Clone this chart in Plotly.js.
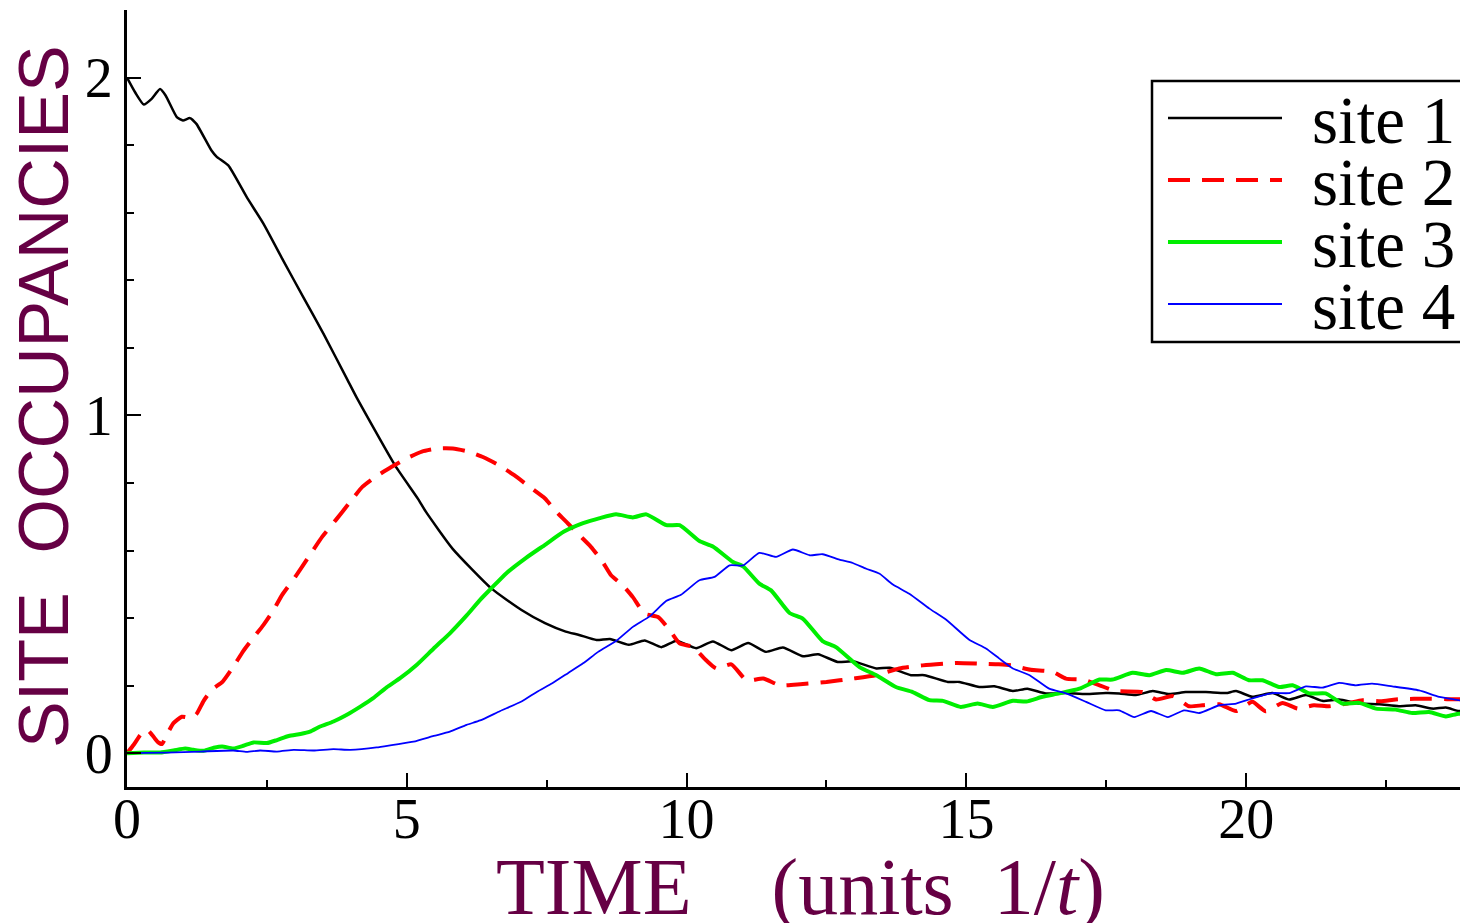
<!DOCTYPE html>
<html>
<head>
<meta charset="utf-8">
<script src="https://cdn.plot.ly/plotly-3.0.1.min.js"></script>
<style>
  html, body { margin: 0; padding: 0; background: #fff; overflow: hidden; width: 1460px; height: 923px; }
  #chart { width: 1476px; height: 923px; }
</style>
</head>
<body>
<div id="chart"></div>
<script>
// ---- data: [time, occupancy] ----
const seriesNames = ["site 1", "site 2", "site 3", "site 4"];
const xAxisTitle = "TIME\u00a0\u00a0\u00a0\u00a0(units\u00a0\u00a01/<i>t</i>)";
const yAxisTitle = "SITE\u00a0\u00a0OCCUPANCIES";

const site1 = [[0,2.0],[0.15,1.955],[0.3,1.92],[0.44,1.937],[0.59,1.966],[0.69,1.947],[0.89,1.883],[1.0,1.873],[1.125,1.880],[1.24,1.863],[1.51,1.784],[1.6,1.766],[1.81,1.740],[2.14,1.646],[2.44,1.567],[2.79,1.459],[3.15,1.35],[3.51,1.242],[3.94,1.105],[4.10,1.054],[4.79,0.852],[5.20,0.753],[5.34,0.715],[5.82,0.605],[6.51,0.488],[7.05,0.424],[7.47,0.385],[7.84,0.360],[8.08,0.350],[8.39,0.335],[8.63,0.338],[8.97,0.321],[9.25,0.334],[9.55,0.314],[9.82,0.333],[10.17,0.311],[10.47,0.331],[10.80,0.305],[11.10,0.326],[11.42,0.300],[11.72,0.313],[12.08,0.287],[12.35,0.293],[12.70,0.270],[12.97,0.272],[13.39,0.251],[13.63,0.253],[14.01,0.231],[14.25,0.231],[14.67,0.211],[14.875,0.211],[15.23,0.196],[15.50,0.198],[15.83,0.184],[16.09,0.191],[16.42,0.177],[16.78,0.178],[17.14,0.175],[17.49,0.178],[17.73,0.177],[18.03,0.172],[18.33,0.184],[18.625,0.175],[18.92,0.181],[19.28,0.181],[19.64,0.178],[19.82,0.184],[20.11,0.167],[20.47,0.178],[20.77,0.159],[21.07,0.172],[21.36,0.155],[21.66,0.159],[22.02,0.147],[22.38,0.145],[22.73,0.139],[23.03,0.142],[23.33,0.132],[23.57,0.135],[23.80,0.125],[24.0,0.127]];

const site2 = [[0,0],[0.12,0.025],[0.24,0.054],[0.36,0.069],[0.45,0.054],[0.54,0.035],[0.625,0.027],[0.71,0.054],[0.83,0.089],[0.98,0.108],[1.16,0.104],[1.25,0.118],[1.37,0.155],[1.51,0.187],[1.71,0.212],[1.90,0.256],[2.08,0.303],[2.26,0.342],[2.44,0.38],[2.62,0.424],[2.77,0.468],[3.01,0.523],[3.25,0.582],[3.49,0.641],[3.73,0.690],[3.97,0.740],[4.21,0.789],[4.45,0.819],[4.73,0.848],[5.0,0.873],[5.27,0.893],[5.55,0.902],[5.82,0.902],[6.10,0.893],[6.37,0.876],[6.64,0.853],[6.92,0.823],[7.19,0.789],[7.47,0.754],[7.67,0.715],[7.88,0.680],[8.08,0.646],[8.29,0.611],[8.49,0.569],[8.65,0.527],[8.86,0.497],[9.04,0.462],[9.25,0.413],[9.49,0.403],[9.70,0.364],[9.875,0.325],[10.11,0.315],[10.35,0.275],[10.53,0.251],[10.80,0.263],[11.07,0.216],[11.37,0.221],[11.67,0.201],[12.03,0.204],[12.5,0.211],[12.97,0.221],[13.38,0.231],[13.80,0.251],[14.22,0.260],[14.81,0.267],[15.23,0.265],[15.58,0.263],[15.80,0.260],[16.15,0.247],[16.54,0.241],[16.78,0.221],[17.08,0.218],[17.38,0.201],[17.67,0.184],[18.15,0.181],[18.39,0.159],[18.69,0.169],[18.98,0.139],[19.22,0.142],[19.52,0.145],[19.82,0.125],[20.11,0.152],[20.35,0.124],[20.65,0.149],[20.92,0.132],[21.21,0.142],[21.48,0.139],[21.81,0.147],[22.08,0.157],[22.40,0.154],[22.67,0.159],[23.0,0.161],[23.27,0.161],[23.59,0.160],[24.0,0.160]];

const site3 = [[0,0],[0.30,0.002],[0.595,0.002],[0.83,0.008],[1.04,0.014],[1.19,0.010],[1.37,0.007],[1.55,0.016],[1.70,0.020],[1.90,0.014],[2.08,0.022],[2.26,0.032],[2.5,0.030],[2.68,0.039],[2.89,0.051],[3.10,0.057],[3.27,0.064],[3.45,0.079],[3.69,0.094],[3.93,0.114],[4.17,0.138],[4.40,0.163],[4.64,0.195],[4.88,0.222],[5.18,0.262],[5.48,0.310],[5.77,0.355],[6.07,0.408],[6.31,0.454],[6.51,0.488],[6.78,0.533],[7.12,0.577],[7.47,0.617],[7.81,0.656],[8.15,0.681],[8.45,0.696],[8.74,0.707],[9.04,0.698],[9.28,0.707],[9.64,0.675],[9.875,0.675],[10.23,0.628],[10.47,0.612],[10.83,0.566],[11.01,0.553],[11.30,0.502],[11.51,0.482],[11.84,0.415],[12.08,0.398],[12.43,0.332],[12.67,0.314],[13.09,0.255],[13.39,0.231],[13.74,0.196],[14.04,0.181],[14.34,0.157],[14.58,0.155],[14.90,0.137],[15.20,0.147],[15.47,0.137],[15.83,0.155],[16.07,0.153],[16.36,0.167],[16.66,0.177],[17.02,0.191],[17.38,0.218],[17.61,0.218],[17.97,0.238],[18.27,0.231],[18.57,0.246],[18.87,0.238],[19.16,0.251],[19.46,0.234],[19.76,0.238],[20.05,0.216],[20.29,0.216],[20.59,0.196],[20.83,0.201],[21.13,0.177],[21.42,0.177],[21.72,0.147],[22.02,0.149],[22.32,0.132],[22.67,0.129],[22.97,0.119],[23.27,0.122],[23.57,0.109],[23.80,0.117],[24.0,0.112]];

const site4 = [[0,0],[0.71,0.002],[1.31,0.005],[1.90,0.008],[2.14,0.004],[2.38,0.008],[2.68,0.005],[2.98,0.010],[3.33,0.008],[3.69,0.012],[3.99,0.010],[4.46,0.017],[4.76,0.025],[5.12,0.034],[5.48,0.051],[5.77,0.064],[6.07,0.084],[6.31,0.097],[6.67,0.125],[7.05,0.153],[7.33,0.182],[7.60,0.207],[7.88,0.237],[8.15,0.266],[8.42,0.300],[8.74,0.332],[9.04,0.374],[9.34,0.405],[9.64,0.451],[9.90,0.469],[10.23,0.512],[10.5,0.522],[10.77,0.556],[11.01,0.556],[11.30,0.593],[11.60,0.581],[11.90,0.603],[12.20,0.586],[12.43,0.589],[12.73,0.573],[12.97,0.563],[13.21,0.546],[13.45,0.531],[13.68,0.500],[13.98,0.472],[14.34,0.428],[14.64,0.395],[15.05,0.336],[15.35,0.310],[15.59,0.280],[15.83,0.251],[16.13,0.231],[16.48,0.191],[16.78,0.177],[17.14,0.152],[17.49,0.127],[17.73,0.127],[18.0,0.107],[18.30,0.125],[18.60,0.107],[18.89,0.127],[19.16,0.119],[19.52,0.142],[19.82,0.147],[20.11,0.162],[20.47,0.178],[20.77,0.178],[21.07,0.198],[21.36,0.194],[21.66,0.208],[21.96,0.201],[22.25,0.206],[22.61,0.198],[23.09,0.186],[23.45,0.167],[23.80,0.157],[24.0,0.150]];

const xTickVals = [0, 5, 10, 15, 20];
const yTickVals = [0, 1, 2];
const xRange = [0, 24];
const yRange = [-0.1, 2.2];

// ---- styling ----
const styles = [
  {color: "#000000", width: 2.5, dash: "solid"},
  {color: "#ff0000", width: 4, dash: "22px,12px"},
  {color: "#00ee00", width: 4, dash: "solid"},
  {color: "#0000ff", width: 1.8, dash: "solid"}
];
const allSeries = [site1, site2, site3, site4];

const titleColor = "#660044";
const serif = "Liberation Serif, Times New Roman, serif";
const sans = "Liberation Sans, Arial, sans-serif";
const W = 1476, H = 923;
const M = {l: 127, r: 6, t: 10, b: 136};
const plotW = W - M.l - M.r, plotH = H - M.t - M.b;
const px = x => (x - M.l) / plotW;
const py = y => (H - M.b - y) / plotH;

const traces = allSeries.map((s, i) => ({
  type: "scatter",
  mode: "lines",
  name: seriesNames[i],
  x: s.map(p => p[0]),
  y: s.map(p => p[1]),
  line: {color: styles[i].color, width: styles[i].width, dash: styles[i].dash, shape: "spline", smoothing: 0.5},
  hoverinfo: "skip",
  showlegend: false
}));

// manual legend (box + sample lines + labels)
const legRowsY = [118, 180, 242, 304];
const shapes = [{
  type: "rect", xref: "paper", yref: "paper", layer: "above",
  x0: px(1152), x1: px(1500), y0: py(342), y1: py(81),
  line: {color: "#000", width: 2.5}, fillcolor: "rgba(255,255,255,1)"
}];
const annotations = [];
seriesNames.forEach((n, i) => {
  shapes.push({
    type: "line", xref: "paper", yref: "paper", layer: "above",
    x0: px(1168), x1: px(1282), y0: py(legRowsY[i]), y1: py(legRowsY[i]),
    line: {color: styles[i].color, width: styles[i].width, dash: styles[i].dash}
  });
  annotations.push({
    xref: "paper", yref: "paper", x: px(1310), y: py(legRowsY[i] + 2),
    xanchor: "left", yanchor: "middle", showarrow: false,
    text: n, font: {family: serif, size: 67, color: "#000"}
  });
});

// axis titles
annotations.push({
  xref: "paper", yref: "paper", x: px(800), y: py(841),
  xanchor: "center", yanchor: "top", showarrow: false,
  text: xAxisTitle, font: {family: serif, size: 80, color: titleColor}
});
annotations.push({
  xref: "paper", yref: "paper", x: px(44), y: py(397),
  xanchor: "center", yanchor: "middle", showarrow: false, textangle: -90,
  text: yAxisTitle, font: {family: sans, size: 70, color: titleColor}
});

const tickCommon = {
  showline: true, linecolor: "#000", linewidth: 3,
  ticks: "inside", ticklen: 14, tickwidth: 2, tickcolor: "#000",
  showgrid: false, zeroline: false, fixedrange: true
};

const layout = {
  width: W, height: H,
  margin: M,
  paper_bgcolor: "#fff", plot_bgcolor: "#fff",
  showlegend: false,
  xaxis: Object.assign({}, tickCommon, {
    range: xRange, tickmode: "array", tickvals: xTickVals,
    tickfont: {family: serif, size: 56, color: "#000"},
    ticklabelstandoff: -19,
    minor: {dtick: 2.5, tick0: 0, ticks: "inside", ticklen: 7, tickwidth: 2, tickcolor: "#000"}
  }),
  xaxis2: Object.assign({}, tickCommon, {
    overlaying: "x", side: "top", anchor: "y",
    range: xRange, tickmode: "array", tickvals: xTickVals, showticklabels: false,
    minor: {dtick: 2.5, tick0: 0, ticks: "inside", ticklen: 7, tickwidth: 2, tickcolor: "#000"}
  }),
  yaxis: Object.assign({}, tickCommon, {
    range: yRange, tickmode: "array", tickvals: yTickVals,
    tickfont: {family: serif, size: 56, color: "#000"},
    minor: {dtick: 0.2, tick0: 0, ticks: "inside", ticklen: 7, tickwidth: 2, tickcolor: "#000"}
  }),
  yaxis2: Object.assign({}, tickCommon, {
    overlaying: "y", side: "right", anchor: "x",
    range: yRange, tickmode: "array", tickvals: yTickVals, showticklabels: false,
    minor: {dtick: 0.2, tick0: 0, ticks: "inside", ticklen: 7, tickwidth: 2, tickcolor: "#000"}
  }),
  shapes: shapes,
  annotations: annotations
};

Plotly.newPlot("chart", traces, layout, {displayModeBar: false, staticPlot: true});
</script>
</body>
</html>
